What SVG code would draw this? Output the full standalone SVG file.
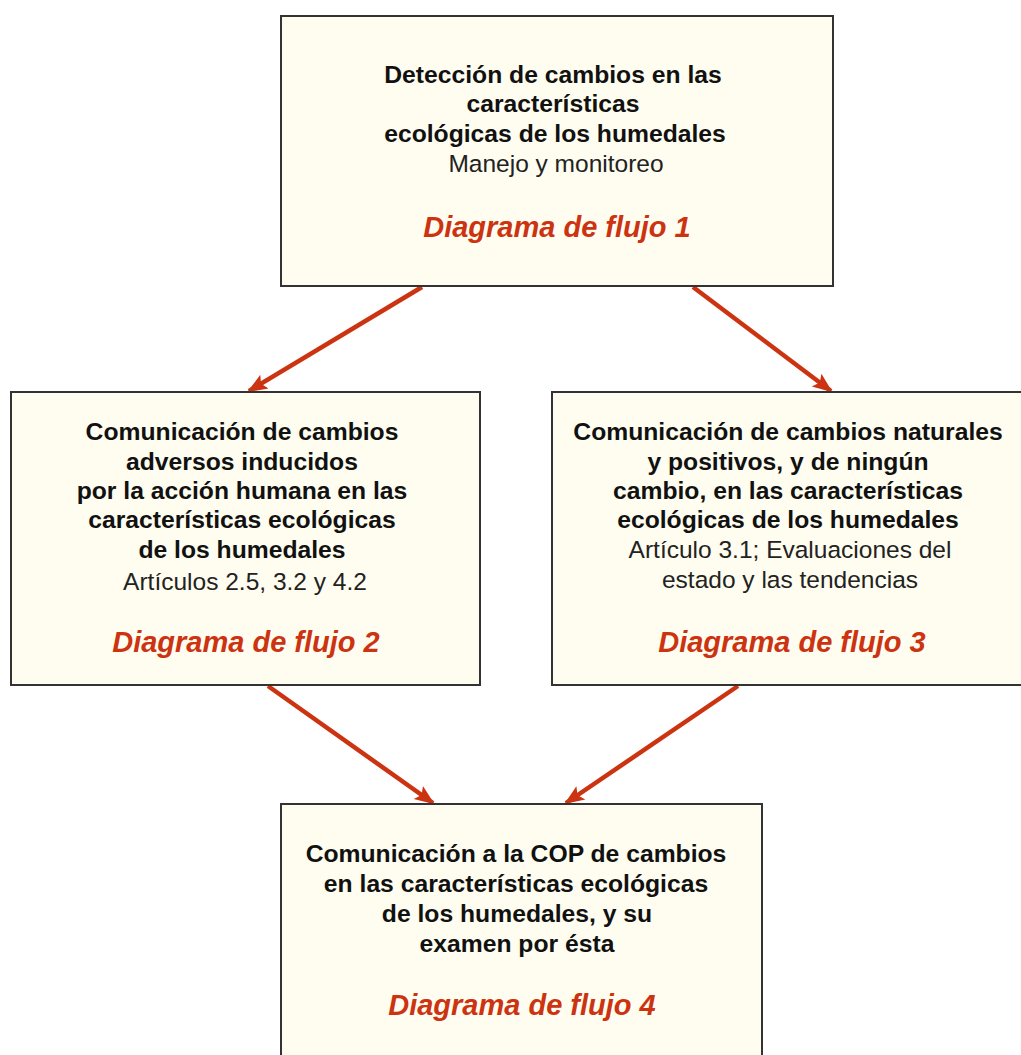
<svg xmlns="http://www.w3.org/2000/svg" width="1021" height="1055" viewBox="0 0 1021 1055">
  <style>
    .box { fill: #fffdf0; stroke: #333333; stroke-width: 2; }
    .b { font-family: "Liberation Sans", Arial, sans-serif; font-size: 24.7px; font-weight: bold; fill: #111111; text-anchor: middle; }
    .r { font-family: "Liberation Sans", Arial, sans-serif; font-size: 24.5px; fill: #222222; text-anchor: middle; }
    .d { font-family: "Liberation Sans", Arial, sans-serif; font-size: 29px; font-weight: bold; font-style: italic; fill: #cc3311; text-anchor: middle; }
    .conn { stroke: #cc3311; stroke-width: 4.5; fill: none; marker-end: url(#ah); }
  </style>
  <defs>
    <marker id="ah" markerUnits="userSpaceOnUse" markerWidth="20" markerHeight="20" viewBox="0 0 20 20" refX="18" refY="10" orient="auto">
      <path d="M0,2 L20,10 L0,18 L4,10 Z" fill="#cc3311"/>
    </marker>
  </defs>
  <rect width="1021" height="1055" fill="#ffffff"/>

  <g id="connectors">
    <line class="conn" x1="422" y1="287" x2="249" y2="391"/>
    <line class="conn" x1="693" y1="287" x2="831" y2="391"/>
    <line class="conn" x1="268" y1="686" x2="433" y2="803"/>
    <line class="conn" x1="738" y1="686" x2="566" y2="803"/>
  </g>

  <g id="node1">
    <rect class="box" x="281" y="16" width="552" height="270"/>
    <text class="b" x="553" y="83">Detección de cambios en las</text>
    <text class="b" x="553" y="112">características</text>
    <text class="b" x="555" y="142">ecológicas de los humedales</text>
    <text class="r" x="556" y="172">Manejo y monitoreo</text>
    <text class="d" x="557" y="237">Diagrama de flujo 1</text>
  </g>

  <g id="node2">
    <rect class="box" x="11" y="392" width="469" height="293"/>
    <text class="b" x="242" y="440">Comunicación de cambios</text>
    <text class="b" x="242" y="470">adversos inducidos</text>
    <text class="b" x="242" y="499">por la acción humana en las</text>
    <text class="b" x="242" y="528">características ecológicas</text>
    <text class="b" x="242" y="558">de los humedales</text>
    <text class="r" x="245" y="590">Artículos 2.5, 3.2 y 4.2</text>
    <text class="d" x="246" y="652">Diagrama de flujo 2</text>
  </g>

  <g id="node3">
    <rect class="box" x="552" y="392" width="480" height="293"/>
    <text class="b" x="788" y="440">Comunicación de cambios naturales</text>
    <text class="b" x="788" y="470">y positivos, y de ningún</text>
    <text class="b" x="788" y="499">cambio, en las características</text>
    <text class="b" x="788" y="528">ecológicas de los humedales</text>
    <text class="r" x="790" y="558">Artículo 3.1; Evaluaciones del</text>
    <text class="r" x="790" y="588">estado y las tendencias</text>
    <text class="d" x="792" y="652">Diagrama de flujo 3</text>
  </g>

  <g id="node4">
    <rect class="box" x="281" y="804" width="481" height="270"/>
    <text class="b" x="516" y="862">Comunicación a la COP de cambios</text>
    <text class="b" x="516" y="892">en las características ecológicas</text>
    <text class="b" x="517" y="922">de los humedales, y su</text>
    <text class="b" x="517" y="952">examen por ésta</text>
    <text class="d" x="522" y="1015">Diagrama de flujo 4</text>
  </g>
</svg>
